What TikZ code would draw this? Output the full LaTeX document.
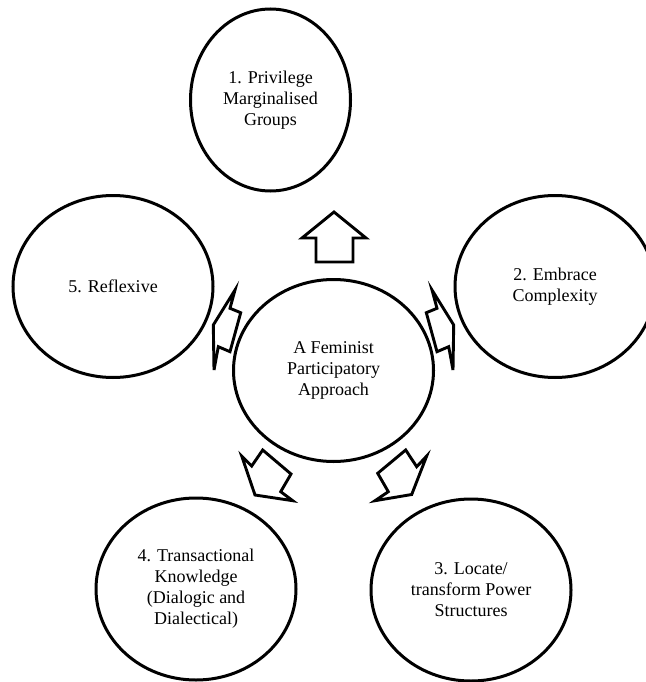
\documentclass[tikz,border=0pt]{standalone}
\usepackage{fontspec}
\setmainfont{Liberation Serif}
\usetikzlibrary{shapes.geometric}
\begin{document}
\begin{tikzpicture}[x=1pt,y=-1pt,
  bubble/.style={draw=black, line width=3pt, ellipse, inner sep=0pt, align=center,
    minimum width=200pt, minimum height=182pt, font=\fontsize{18}{21}\selectfont},
  blockarrow/.style={draw=black, line width=2.9pt, fill=white, line join=miter}]
\useasboundingbox (0,0) rectangle (645,682);
\fill[white] (0,0) rectangle (645,682);
% circles
\node[bubble, minimum width=160pt] (p1) at (270.5,100) {1. Privilege\\Marginalised\\Groups};
\node[bubble] (p2) at (555,286.5) {2. Embrace\\Complexity};
\node[bubble] (p3) at (471,590) {3. Locate/\\transform Power\\Structures};
\node[bubble] (p4) at (196,589) {4. Transactional\\Knowledge\\(Dialogic and\\Dialectical)};
\node[bubble] (p5) at (113,286.5) {5. Reflexive};
\node[bubble] (c) at (333.5,370.5) {A Feminist\\Participatory\\Approach};
% block arrows
\draw[blockarrow] (334,212) -- (366,238) -- (353,238) -- (353,262) -- (316,262) -- (316,238) -- (302,238) -- cycle;
\draw[blockarrow] (235,290) -- (230,308.3) -- (240.7,312.7) -- (230,351.7) -- (218.3,346.7) -- (214,370) -- (213.3,325) -- cycle;
\draw[blockarrow] (432,290) -- (437,308.3) -- (426.3,312.7) -- (437,351.7) -- (448.7,346.7) -- (453,370) -- (453.7,325) -- cycle;
\draw[blockarrow] (241.7,456) -- (251.7,466) -- (262.7,450) -- (291,474) -- (280.7,491.7) -- (292.7,500.7) -- (255,495) -- cycle;
\draw[blockarrow] (426.7,456) -- (416.7,466.7) -- (405.7,450) -- (377.7,473.3) -- (388.3,491.7) -- (375,500.7) -- (411.7,494.5) -- cycle;
\end{tikzpicture}
\end{document}
